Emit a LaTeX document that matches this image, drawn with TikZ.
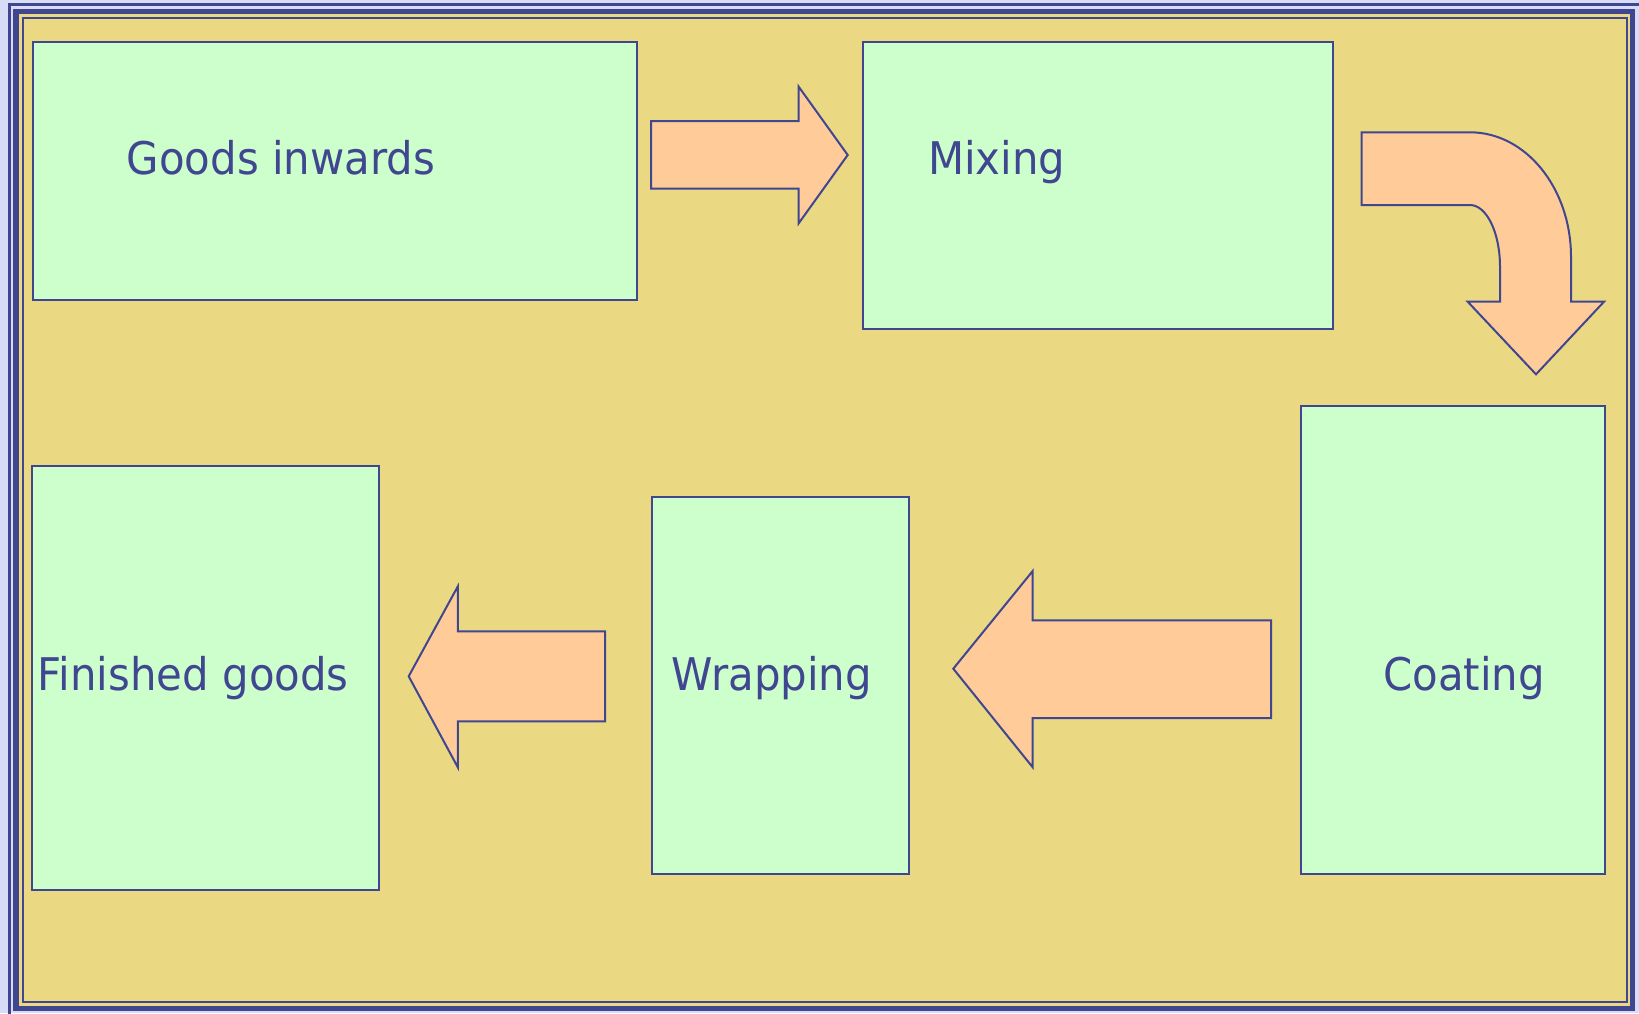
\documentclass[tikz,border=0pt]{standalone}
\usepackage{fontspec}
\setmainfont{DejaVu Sans}[FakeStretch=0.93]
\definecolor{navy}{RGB}{64,70,144}
\definecolor{panel}{RGB}{234,216,130}
\definecolor{boxgreen}{RGB}{204,255,204}
\definecolor{arrowfill}{RGB}{255,204,153}
\definecolor{pagebg}{RGB}{216,220,246}
\tikzset{
  procbox/.style={draw=navy, fill=boxgreen, line width=2pt, inner sep=0pt,
                  anchor=north west, rectangle},
  proclabel/.style={text=navy, anchor=base west, inner sep=0pt,
                    font=\fontsize{45}{54}\selectfont},
  blockarrow/.style={draw=navy, fill=arrowfill, line width=2pt, line join=miter}
}
\begin{document}
\begin{tikzpicture}[x=1pt, y=-1pt]
  % page and frame
  \fill[pagebg] (0,0) rectangle (1639,1013);
  \useasboundingbox (0,0) rectangle (1639,1013);
  \draw[navy, line width=3pt] (9.5,4.5) rectangle (1660,1030);
  \draw[navy, fill=panel, line width=5.5pt] (16,11.5) rectangle (1632.5,1008.4);
  \draw[navy, line width=2.3pt] (23,18) rectangle (1627,1002.2);

  % process boxes
  \node[procbox, minimum width=604pt, minimum height=258pt] (goods) at (31.5,41) {};
  \node[procbox, minimum width=469.4pt, minimum height=287.2pt] (mixing) at (862.3,41) {};
  \node[procbox, minimum width=303.1pt, minimum height=468.3pt] (coating) at (1300.4,404.5) {};
  \node[procbox, minimum width=257.9pt, minimum height=377.3pt] (wrapping) at (650.5,495.5) {};
  \node[procbox, minimum width=347pt, minimum height=423.3pt] (finished) at (31.4,465.2) {};

  % labels
  \node[proclabel] (tgoods) at (126.7,174) {Goods inwards};
  \node[proclabel] (tmixing) at (928,174) {Mixing};
  \node[proclabel] (tcoating) at (1383,690) {Coating};
  \node[proclabel] (twrapping) at (671.5,690) {Wrapping};
  \node[proclabel] (tfinished) at (37.5,690) {Finished goods};

  % block arrows
  \draw[blockarrow] (651,121) -- (798.7,121) -- (798.7,86.7) -- (847.7,155)
     -- (798.7,223.3) -- (798.7,188.7) -- (651,188.7) -- cycle;

  \draw[blockarrow] (1361.7,132.3) -- (1470,132.3)
     arc[start angle=90, end angle=0, x radius=101pt, y radius=124.7pt]
     -- (1571,301.7) -- (1604,301.7) -- (1536,374.3) -- (1467.7,301.7)
     -- (1500,301.7) -- (1500,266.7)
     arc[start angle=0, end angle=90, x radius=30pt, y radius=61.7pt]
     -- (1361.7,205) -- cycle;

  \draw[blockarrow] (1271,620.3) -- (1032.7,620.3) -- (1032.7,571) -- (953.3,668.7)
     -- (1032.7,767.3) -- (1032.7,718) -- (1271,718) -- cycle;

  \draw[blockarrow] (605.2,631.4) -- (457.8,631.4) -- (457.8,586.4) -- (408.7,676.3)
     -- (457.8,767.3) -- (457.8,721.3) -- (605.2,721.3) -- cycle;
\end{tikzpicture}
\end{document}
